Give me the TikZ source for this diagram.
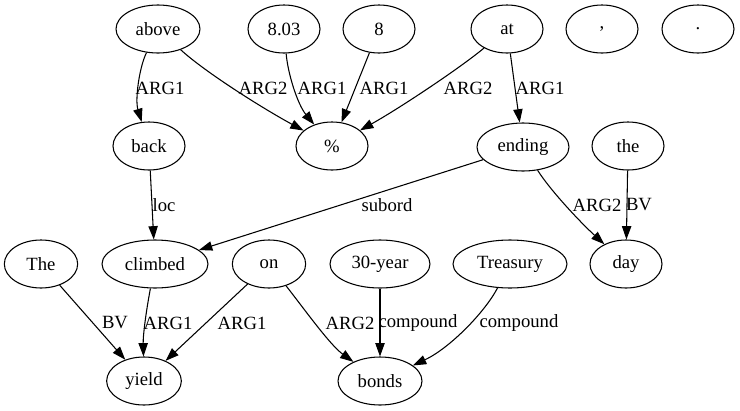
\documentclass[tikz,border=0pt]{standalone}
\usepackage{fontspec}
\setmainfont{Liberation Serif}
\usetikzlibrary{shapes.geometric,arrows.meta}

\begin{document}
\begin{tikzpicture}[x=0.75pt,y=-0.75pt,line width=0.8pt,
		every node/.style={font=\fontsize{14}{16}\selectfont},
		word/.style={draw,ellipse,inner sep=0pt,minimum width=54pt,minimum height=36pt},
		lbl/.style={inner sep=0pt},
		via/.style 2 args={to path={.. controls #1 and #2 .. (\tikztotarget) \tikztonodes}},
		>={Triangle[length=10pt,width=7pt]}]
			\useasboundingbox (0,0) rectangle (740,411);

			\node[word,minimum width=63pt]   (Above)    at (158,29)  {above};
			\node[word]                      (Num803)   at (284,29)  {8.03};
			\node[word]                      (Num8)     at (379,29)  {8};
			\node[word]                      (At)       at (507,29)  {at};
			\node[word]                      (Comma)    at (602,29)  {,};
			\node[word]                      (Stop)     at (698,29)  {.};
			\node[word]                      (Back)     at (149,146) {back};
			\node[word]                      (Pct)      at (332,146) {\%};
			\node[word,minimum width=69pt]   (Ending)   at (523,147) {ending};
			\node[word]                      (TheLow)   at (628,146) {the};
			\node[word,minimum width=55pt]   (TheCap)   at (41,264)  {The};
			\node[word,minimum width=79.5pt] (Climbed)  at (155,264) {climbed};
			\node[word,minimum width=55pt]   (On)       at (269,264) {on};
			\node[word,minimum width=75pt]   (Year)     at (380,264) {30-year};
			\node[word,minimum width=85.5pt] (Treasury) at (510,264) {Treasury};
			\node[word]                      (Day)      at (626,264) {day};
			\node[word,minimum width=56pt]   (Yield)    at (144,381) {yield};
			\node[word,minimum width=63pt]   (Bonds)    at (380,381) {bonds};

			\path[->] (Above)    edge[via={(139,68)}{(135,100)}]  (Back)
						 (Above)    edge[via={(205,72)}{(262,108)}]  (Pct)
						 (Num803)   edge[via={(288,75)}{(298,105)}]  (Pct)
						 (Num8)     edge                             (Pct)
						 (At)       edge[via={(460,68)}{(400,108)}]  (Pct)
						 (At)       edge                             (Ending)
						 (Back)     edge                             (Climbed)
						 (Ending)   edge                             (Climbed)
						 (Ending)   edge[via={(550,190)}{(580,222)}] (Day)
						 (TheLow)   edge                             (Day)
						 (TheCap)   edge                             (Yield)
						 (Climbed)  edge[via={(146,312)}{(143,335)}] (Yield)
						 (On)       edge                             (Yield)
						 (On)       edge[via={(305,310)}{(330,345)}] (Bonds)
						 (Year)     edge                             (Bonds)
						 (Treasury) edge[via={(485,312)}{(450,348)}] (Bonds);

			% edge labels
			\node[lbl] (LAboveBack) at (160,88)  {ARG1};
			\node[lbl] (LAbovePct)  at (263,88)  {ARG2};
			\node[lbl] (LNumPct)    at (322,88)  {ARG1};
			\node[lbl] (LEightPct)  at (384,88)  {ARG1};
			\node[lbl] (LAtPct)     at (468,88)  {ARG2};
			\node[lbl] (LAtEnding)  at (540,88)  {ARG1};
			\node[lbl] (LLoc)       at (164,205) {loc};
			\node[lbl] (LSubord)    at (387,205) {subord};
			\node[lbl] (LEndingDay) at (597,205) {ARG2};
			\node[lbl] (LTheDay)    at (639,205) {BV};
			\node[lbl] (LTheYield)  at (115,323) {BV};
			\node[lbl] (LClimbed)   at (168,323) {ARG1};
			\node[lbl] (LOnYield)   at (242,323) {ARG1};
			\node[lbl] (LOnBonds)   at (350,323) {ARG2};
			\node[lbl] (LYear)      at (418,323) {compound};
			\node[lbl] (LTreasury)  at (519,323) {compound};
		\end{tikzpicture}
\end{document}
